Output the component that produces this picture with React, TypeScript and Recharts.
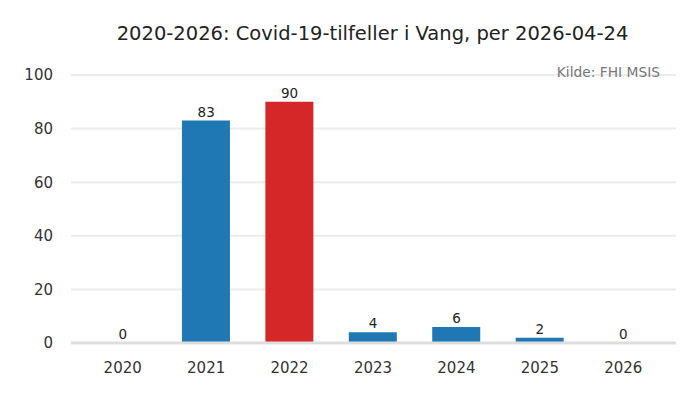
import { ComposedChart, Bar, Line, XAxis, YAxis, CartesianGrid, Cell, LabelList } from 'recharts';

const years = ['2020', '2021', '2022', '2023', '2024', '2025', '2026'];
const cases = [0, 83, 90, 4, 6, 2, 0];
const yTicks = [0, 20, 40, 60, 80, 100];

const data = years.map((year, i) => ({ year, cases: cases[i] }));
const maxCases = Math.max(...cases);

const font = '"DejaVu Sans", sans-serif';

export default function App() {
  return (
    <div style={{ position: 'fixed', left: 0, top: 0, width: 700, height: 400, background: '#fff', fontFamily: font }}>
      <div
        style={{
          position: 'absolute',
          top: 21,
          left: 0,
          width: 745,
          textAlign: 'center',
          fontSize: 19.5,
          color: '#222',
          lineHeight: '26px',
        }}
      >
        2020-2026: Covid-19-tilfeller i Vang, per 2026-04-24
      </div>
      <ComposedChart
        width={700}
        height={400}
        data={data}
        margin={{ top: 75, right: 24, left: 11, bottom: 27 }}
        barCategoryGap="21%"
      >
        <CartesianGrid vertical={false} stroke="#ebebeb" strokeWidth={2} />
        <XAxis
          dataKey="year"
          padding={{ left: 10, right: 11 }}
          tickLine={false}
          tickSize={0}
          tickMargin={19}
          axisLine={{ stroke: '#dddddd', strokeWidth: 3 }}
          tick={{ fill: '#333', fontSize: 15, fontFamily: font }}
        />
        <YAxis
          domain={[0, 100]}
          ticks={yTicks}
          width={60}
          axisLine={false}
          tickLine={false}
          tickSize={0}
          tickMargin={18}
          tick={{ fill: '#333', fontSize: 15, fontFamily: font }}
        />
        <Bar dataKey="cases" isAnimationActive={false}>
          {data.map((d) => (
            <Cell key={d.year} fill={d.cases === maxCases ? '#d62728' : '#1f77b4'} />
          ))}
        </Bar>
        <Line dataKey="cases" stroke="none" dot={false} activeDot={false} isAnimationActive={false}>
          <LabelList dataKey="cases" position="top" offset={4} fill="#222" fontSize={13.5} fontFamily={font} />
        </Line>
      </ComposedChart>
      <div
        style={{
          position: 'absolute',
          top: 64,
          right: 40,
          fontSize: 13.8,
          color: '#777',
          lineHeight: '16px',
        }}
      >
        Kilde: FHI MSIS
      </div>
    </div>
  );
}
